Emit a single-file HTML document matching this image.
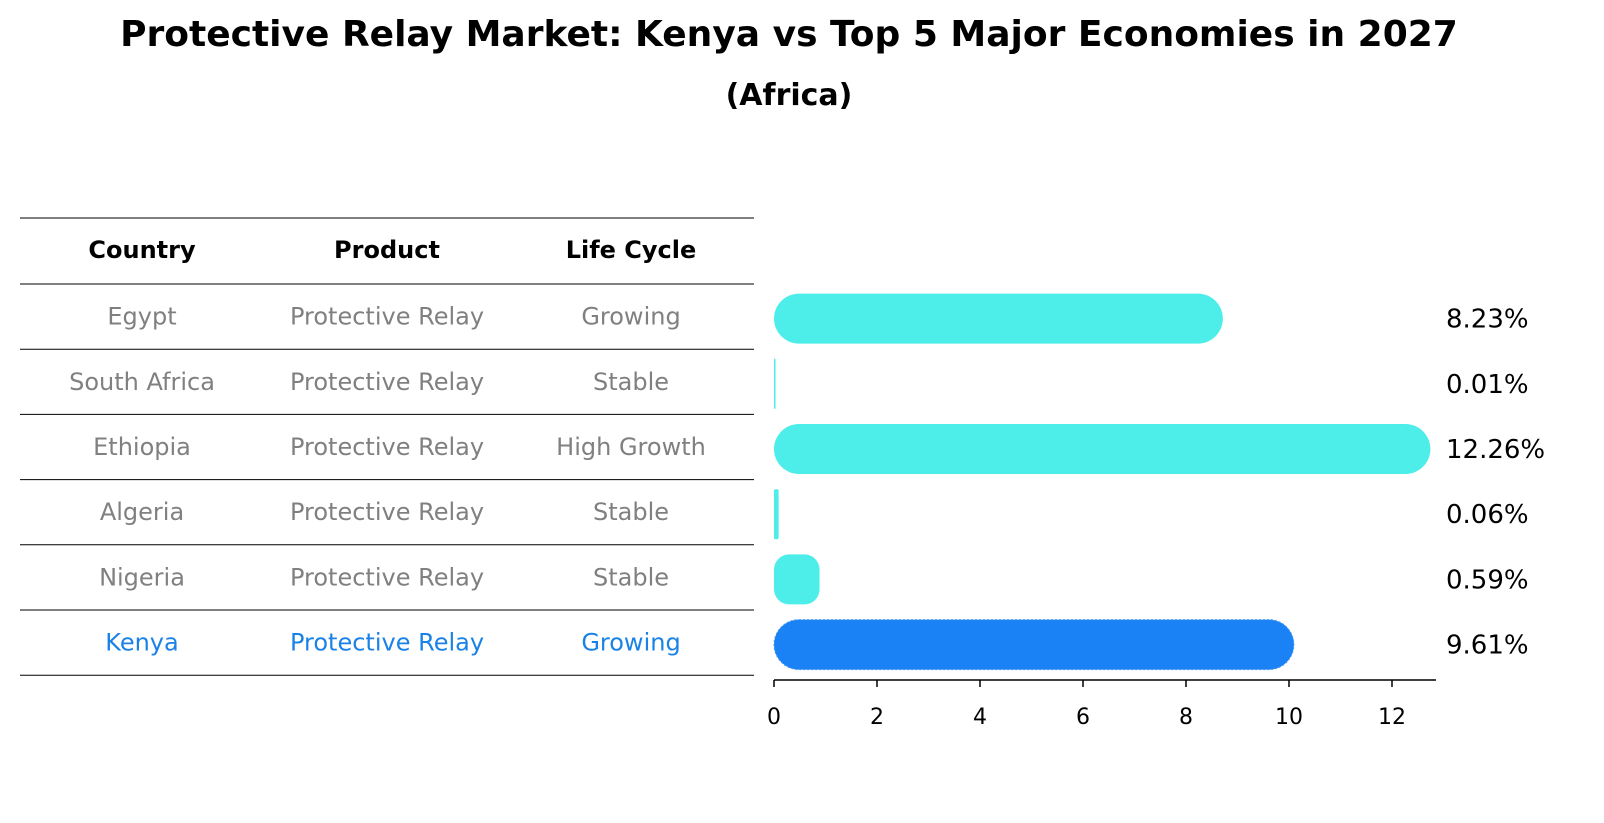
<!DOCTYPE html>
<html><head><meta charset="utf-8"><style>
body{margin:0;background:#fff;font-family:"Liberation Sans","DejaVu Sans",sans-serif;}
#wrap{position:relative;width:1604px;height:823px;overflow:hidden;}
.t{position:absolute;white-space:nowrap;}
</style></head><body>
<div id="wrap">
<div class="t" style="left:0;width:1578px;text-align:center;top:14px;font-size:36px;font-weight:bold;font-family:'DejaVu Sans',sans-serif;">Protective Relay Market: Kenya vs Top 5 Major Economies in 2027</div>
<div class="t" style="left:0;width:1578px;text-align:center;top:78px;font-size:30px;font-weight:bold;font-family:'DejaVu Sans',sans-serif;">(Africa)</div>
<svg id="svg" width="1604" height="823" style="position:absolute;left:0;top:0" font-family="DejaVu Sans, sans-serif"></svg>
</div>
<script>
const countries=["Egypt","South Africa","Ethiopia","Algeria","Nigeria","Kenya"];
const products=["Protective Relay","Protective Relay","Protective Relay","Protective Relay","Protective Relay","Protective Relay"];
const lifeCycles=["Growing","Stable","High Growth","Stable","Stable","Growing"];
const values=[8.23,0.01,12.26,0.06,0.59,9.61];
const ticks=[0,2,4,6,8,10,12];
const svg=document.getElementById('svg');
const NS='http://www.w3.org/2000/svg';
function mk(tag,attrs,parent){const e=document.createElementNS(NS,tag);for(const k in attrs)e.setAttribute(k,attrs[k]);(parent||svg).appendChild(e);return e;}
const x0=774,unit=51.5;
const xs=v=>x0+v*unit;
const rowTop=284,rowH=65.2;
const yc=i=>rowTop+rowH*(i+0.5);
for(let i=0;i<=7;i++){const y=i===0?218:rowTop+rowH*(i-1);
const l=mk('line',{x1:20,x2:754,y1:y,y2:y,stroke:'#000','stroke-width':1});

}
const colX=[142,387,631];
["Country","Product","Life Cycle"].forEach((h,j)=>{const t=mk('text',{x:colX[j],y:258,'text-anchor':'middle','font-size':24,'font-weight':'bold'});t.textContent=h;

});
countries.forEach((c,i)=>{const col=i===countries.length-1?'#1a82e6':'#808080';
[c,products[i],lifeCycles[i]].forEach((s,j)=>{const t=mk('text',{x:colX[j],y:yc(i)+8,'text-anchor':'middle','font-size':24,fill:col});t.textContent=s;

});});
const bh=50;
values.forEach((v,i)=>{const w=xs(v)-x0;const r=Math.min(bh/2,w/2);const kenya=i===values.length-1;
const y=yc(i)-bh/2+2;
const fill=kenya?'#1a82f5':'#4deeea';
const b=mk('rect',{x:x0,y:y,width:Math.max(w+r,1.5),height:bh,rx:r,ry:r,fill:fill});
if(kenya){b.setAttribute('stroke','#4a9cf0');b.setAttribute('stroke-dasharray','2 2');b.setAttribute('stroke-width','1');}


const t=mk('text',{x:1446,y:yc(i)+11,'font-size':26});t.textContent=v.toFixed(2)+'%';

});
const ax=mk('line',{x1:x0,x2:1436,y1:680,y2:680,stroke:'#000','stroke-width':1.5});


ticks.forEach(v=>{mk('line',{x1:xs(v),x2:xs(v),y1:680,y2:687,stroke:'#000','stroke-width':1.5});
const t=mk('text',{x:xs(v),y:724,'text-anchor':'middle','font-size':22});t.textContent=v;

});
</script>
</body></html>
